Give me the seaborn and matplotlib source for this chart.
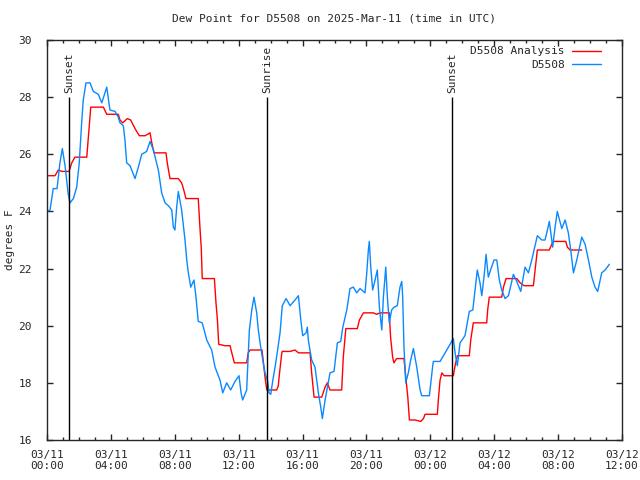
import numpy as np
import pandas as pd
import seaborn as sns
import matplotlib.pyplot as plt
import matplotlib.dates as mdates

# hours since 2025-03-11 00:00 UTC, dew point in F
obs_hours = [0.0, 0.19, 0.39, 0.63, 0.81, 0.96, 1.13, 1.33, 1.44, 1.65, 1.86, 2.02, 2.17, 2.27,
             2.44, 2.69, 2.90, 3.21, 3.43, 3.74, 3.94, 4.26, 4.46, 4.57, 4.78, 4.88, 4.99, 5.20,
             5.51, 5.72, 5.93, 6.24, 6.45, 6.66, 6.97, 7.18, 7.39, 7.60, 7.81, 7.91, 8.01, 8.12,
             8.22, 8.43, 8.64, 8.75, 8.85, 9.00, 9.20, 9.31, 9.47, 9.72, 10.0, 10.31, 10.52,
             10.83, 11.0, 11.25, 11.5, 11.77, 12.02, 12.15, 12.25, 12.50, 12.67, 12.82, 12.96,
             13.13, 13.23, 13.34, 13.51, 13.65, 13.82, 13.90, 14.01, 14.14, 14.28, 14.40, 14.59,
             14.73, 14.97, 15.22, 15.53, 15.74, 15.89, 16.01, 16.22, 16.30, 16.36, 16.57, 16.78,
             16.99, 17.14, 17.24, 17.41, 17.72, 17.97, 18.18, 18.39, 18.52, 18.77, 18.97, 19.18,
             19.39, 19.60, 19.91, 20.02, 20.12, 20.18, 20.27, 20.39, 20.54, 20.68, 20.81, 20.96,
             21.06, 21.21, 21.31, 21.43, 21.58, 21.73, 21.93, 22.10, 22.21, 22.27, 22.35, 22.46,
             22.62, 22.77, 22.94, 23.15, 23.36, 23.46, 23.94, 24.15, 24.19, 24.61, 25.03, 25.44,
             25.55, 25.69, 25.86, 26.17, 26.28, 26.44, 26.66, 26.80, 26.94, 27.11, 27.22, 27.36,
             27.49, 27.63, 27.74, 27.99, 28.16, 28.32, 28.47, 28.68, 28.89, 29.20, 29.41, 29.66,
             29.93, 30.14, 30.35, 30.70, 30.98, 31.18, 31.29, 31.45, 31.66, 31.81, 31.95, 32.23,
             32.44, 32.64, 32.79, 32.96, 33.17, 33.48, 33.69, 33.90, 34.11, 34.31, 34.48, 34.73,
             34.94, 35.21]
obs_dewpt = [24.0, 24.05, 24.8, 24.8, 25.7, 26.2, 25.6, 24.6, 24.3, 24.45, 24.85, 25.7, 27.1, 27.9,
             28.5, 28.5, 28.2, 28.1, 27.8, 28.35, 27.55, 27.5, 27.3, 27.1, 27.0, 26.5, 25.7, 25.6,
             25.15, 25.55, 26.0, 26.1, 26.45, 26.15, 25.45, 24.65, 24.3, 24.2, 24.05, 23.45, 23.35, 24.15,
             24.7, 24.05, 23.0, 22.3, 21.85, 21.35, 21.6, 21.1, 20.15, 20.1, 19.5, 19.15, 18.55,
             18.1, 17.65, 18.0, 17.75, 18.05, 18.25, 17.65, 17.4, 17.75, 19.85, 20.55, 21.0,
             20.45, 19.85, 19.4, 18.8, 18.35, 18.05, 17.65, 17.6, 18.1, 18.55, 19.0, 19.75,
             20.7, 20.95, 20.7, 20.9, 21.05, 20.2, 19.65, 19.75, 19.95, 19.5, 18.8, 18.55,
             17.65, 17.15, 16.75, 17.4, 18.35, 18.4, 19.4, 19.45, 19.95, 20.55, 21.3, 21.35,
             21.15, 21.3, 21.15, 21.85, 22.65, 22.95, 22.05, 21.25, 21.6, 21.95, 20.65, 19.85,
             21.0, 22.05, 21.0, 20.1, 20.55, 20.65, 20.7, 21.35, 21.55, 21.0, 19.25, 18.0,
             18.35, 18.8, 19.2, 18.55, 17.75, 17.55, 17.55, 18.6, 18.75, 18.75, 19.15, 19.55,
             19.05, 18.6, 19.4, 19.65, 20.0, 20.5, 20.55, 21.25, 21.95, 21.5, 21.05, 21.7,
             22.5, 21.7, 21.9, 22.3, 22.3, 21.6, 21.25, 20.95, 21.05, 21.8, 21.55, 21.2,
             22.05, 21.85, 22.3, 23.15, 23.0, 23.0, 23.25, 23.65, 22.75, 23.45, 24.0, 23.4,
             23.7, 23.25, 22.65, 21.85, 22.3, 23.1, 22.85, 22.3, 21.7, 21.35, 21.2, 21.85,
             21.95, 22.15]

ana_hours = [0.06, 0.5, 0.71, 0.94, 1.38, 1.55, 1.75, 2.49, 2.59, 2.74, 3.53, 3.74, 4.46, 4.57,
             4.74, 5.03, 5.24, 5.51, 5.78, 6.14, 6.45, 6.56, 6.70, 7.45, 7.53, 7.70, 8.22, 8.43,
             8.54, 8.70, 9.47, 9.58, 9.66, 9.72, 10.48, 10.58, 10.67, 10.75, 11.15, 11.46, 11.57,
             11.73, 12.50, 12.60, 12.71, 13.46, 13.54, 13.65, 13.76, 14.38, 14.48, 14.55, 14.70,
             14.73, 15.22, 15.53, 15.74, 16.47, 16.57, 16.72, 17.20, 17.41, 17.55, 17.72, 18.45,
             18.55, 18.71, 19.43, 19.56, 19.81, 20.43, 20.64, 20.85, 21.43, 21.51, 21.64, 21.72,
             21.89, 22.35, 22.48, 22.59, 22.69, 23.04, 23.40, 23.57, 23.67, 24.44, 24.50, 24.61,
             24.72, 24.86, 25.44, 25.55, 25.69, 26.44, 26.53, 26.69, 27.53, 27.59, 27.69, 28.47,
             28.58, 28.74, 29.41, 29.62, 29.87, 30.45, 30.56, 30.70, 31.45, 31.60, 31.70, 32.48,
             32.58, 32.75, 33.48]
ana_dewpt = [25.25, 25.25, 25.45, 25.4, 25.4, 25.7, 25.9, 25.9, 26.6, 27.65, 27.65, 27.4, 27.4, 27.2,
             27.1, 27.25, 27.2, 26.9, 26.65, 26.65, 26.75, 26.4, 26.05, 26.05, 25.7, 25.15, 25.15, 25.0,
             24.8, 24.45, 24.45, 23.4, 22.7, 21.65, 21.65, 20.8, 20.2, 19.35, 19.3, 19.3, 19.05,
             18.7, 18.7, 19.05, 19.15, 19.15, 18.75, 18.2, 17.75, 17.75, 17.9, 18.3, 19.05,
             19.1, 19.1, 19.15, 19.05, 19.05, 18.35, 17.5, 17.5, 17.85, 18.0, 17.75, 17.75,
             18.9, 19.9, 19.9, 20.2, 20.45, 20.45, 20.4, 20.45, 20.45, 19.6, 18.9, 18.7,
             18.85, 18.85, 18.1, 17.5, 16.7, 16.7, 16.65, 16.75, 16.9, 16.9, 17.4, 18.1,
             18.35, 18.25, 18.25, 18.6, 18.95, 18.95, 19.5, 20.1, 20.1, 20.55, 21.0, 21.0,
             21.35, 21.65, 21.65, 21.5, 21.4, 21.4, 21.95, 22.65, 22.65, 22.85, 22.95, 22.95,
             22.75, 22.65, 22.65]

sun_labels = ["Sunset", "Sunrise", "Sunset"]
sun_times = ["2025-03-11 01:23", "2025-03-11 13:47", "2025-03-12 01:22"]

start = pd.Timestamp("2025-03-11 00:00")
df = pd.concat([
    pd.DataFrame({"time": start + pd.to_timedelta(ana_hours, unit="h"),
                  "dewpt": ana_dewpt, "series": "D5508 Analysis"}),
    pd.DataFrame({"time": start + pd.to_timedelta(obs_hours, unit="h"),
                  "dewpt": obs_dewpt, "series": "D5508"}),
], ignore_index=True)

sns.set_style("ticks")
plt.rcParams['font.family'] = ['DejaVu Sans Mono']

fig = plt.figure(figsize=(6.4, 4.8), dpi=100)
ax = fig.add_axes([47 / 640, 40 / 480, 575 / 640, 400 / 480])

sns.lineplot(data=df, x="time", y="dewpt", hue="series",
             hue_order=["D5508 Analysis", "D5508"],
             palette={"D5508 Analysis": "#ff0000", "D5508": "#0a88ff"},
             estimator=None, sort=False, linewidth=1.0, ax=ax)

# sunrise / sunset markers
for lab, t in zip(sun_labels, sun_times):
    t = pd.Timestamp(t)
    ax.vlines(t, 16, 28, color="black", linewidth=1.0)
    ax.text(t, 28.15, lab, rotation=90, ha="center", va="bottom", fontsize=8)

ax.set_xlim(start, start + pd.Timedelta(hours=36))
ax.set_ylim(16, 30)
ax.set_yticks(np.arange(16, 31, 2))
ax.xaxis.set_major_locator(mdates.HourLocator(byhour=range(0, 24, 4)))
ax.xaxis.set_minor_locator(mdates.HourLocator())
ax.xaxis.set_major_formatter(mdates.DateFormatter("%m/%d\n%H:%M"))
ax.tick_params(which="both", direction="in", top=True, right=True, labelsize=8, width=1)
ax.tick_params(which="major", length=4.5)
ax.tick_params(which="minor", length=2.5)
ax.tick_params(axis="x", which="major", pad=7)
ax.tick_params(axis="y", which="major", pad=11)
for s in ax.spines.values():
    s.set_linewidth(1.0)

ax.set_xlabel("")
ax.set_ylabel("degrees F", fontsize=8, labelpad=2)
ax.set_title("Dew Point for D5508 on 2025-Mar-11 (time in UTC)", fontsize=8, pad=13)

ax.legend(loc="upper right", bbox_to_anchor=(0.9715, 0.995), frameon=False,
          markerfirst=False, fontsize=8, handlelength=2.6, handletextpad=0.7,
          labelspacing=0.3, borderaxespad=0.0)

plt.savefig("out.png", dpi=100)
